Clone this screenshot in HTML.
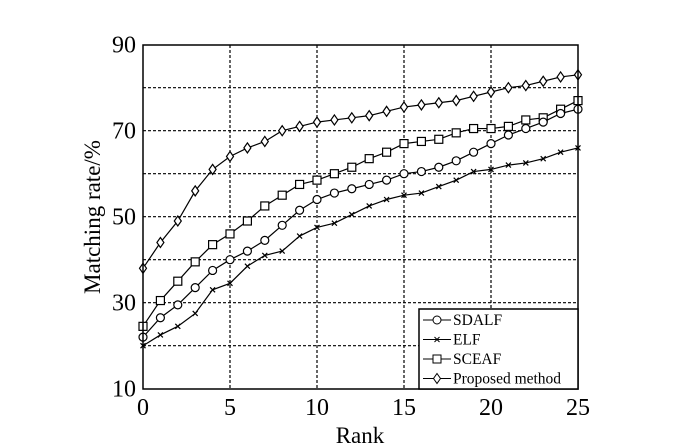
<!DOCTYPE html>
<html><head><style>html,body{margin:0;padding:0;background:#fff}svg{display:block}</style></head><body>
<svg width="700" height="447" xmlns="http://www.w3.org/2000/svg" font-family="Liberation Serif, serif">
<g id="grid" stroke="#000" stroke-width="1.2" stroke-dasharray="3,2"></g>
<g id="series" fill="none" stroke="#000" stroke-width="1.2"></g>
<rect x="143" y="45" width="435" height="344" fill="none" stroke="#000" stroke-width="1.5"/>
<g id="ticks" font-size="24" fill="#000"></g>
<text x="360" y="443" font-size="23" text-anchor="middle">Rank</text>
<text transform="translate(100,217) rotate(-90)" font-size="23" text-anchor="middle">Matching rate/%</text>
<rect x="419" y="309" width="159" height="80" fill="#fff" stroke="#000" stroke-width="1.5"/>
<g id="legend" font-size="15.5"></g>
<script>
var X=function(v){return 143+v*17.4},Y=function(v){return 388.7-(v-10)*4.3};
var ns="http://www.w3.org/2000/svg";
function el(p,t,a){var e=document.createElementNS(ns,t);for(var k in a)e.setAttribute(k,a[k]);p.appendChild(e);return e;}
var g=document.getElementById('grid');
[5,10,15,20].forEach(function(v){el(g,'line',{x1:X(v),x2:X(v),y1:45,y2:389});});
[20,30,40,50,60,70,80].forEach(function(v){el(g,'line',{x1:143,x2:578,y1:Y(v),y2:Y(v)});});
var t=document.getElementById('ticks');
[0,5,10,15,20,25].forEach(function(v){var e=el(t,'text',{x:X(v),y:415,'text-anchor':'middle'});e.textContent=v;});
[10,30,50,70,90].forEach(function(v){var e=el(t,'text',{x:136,y:Y(v)+8,'text-anchor':'end'});e.textContent=v;});
var D={
p:[38,44,49,56,61,64,66,67.5,70,71,72,72.5,73,73.5,74.5,75.5,76,76.5,77,78,79,80,80.5,81.5,82.5,83],
q:[24.5,30.5,35,39.5,43.5,46,49,52.5,55,57.5,58.5,60,61.5,63.5,65,67,67.5,68,69.5,70.5,70.5,71,72.5,73,75,77],
o:[22,26.5,29.5,33.5,37.5,40,42,44.5,48,51.5,54,55.5,56.5,57.5,58.5,60,60.5,61.5,63,65,67,69,70.5,72,74,75],
x:[20,22.5,24.5,27.5,33,34.5,38.5,41,42,45.5,47.5,48.5,50.5,52.5,54,55,55.5,57,58.5,60.5,61,62,62.5,63.5,65,66]};
var s=document.getElementById('series');
function mark(p,k,x,y){
 if(k=='o')el(p,'circle',{cx:x,cy:y,r:4,fill:'#fff'});
 else if(k=='q')el(p,'rect',{x:x-4,y:y-4,width:8,height:8,fill:'#fff'});
 else if(k=='p')el(p,'polygon',{points:(x)+','+(y-5)+' '+(x+3.5)+','+y+' '+x+','+(y+5)+' '+(x-3.5)+','+y,fill:'#fff'});
 else {el(p,'path',{d:'M'+(x-2.5)+' '+(y-2.5)+'L'+(x+2.5)+' '+(y+2.5)+'M'+(x-2.5)+' '+(y+2.5)+'L'+(x+2.5)+' '+(y-2.5)});}
}
for(var k in D){var pts=D[k].map(function(v,i){return X(i)+','+Y(v);}).join(' ');
 el(s,'polyline',{points:pts});D[k].forEach(function(v,i){mark(s,k,X(i),Y(v));});}
var L=document.getElementById('legend');
var items=[['o','SDALF'],['x','ELF'],['q','SCEAF'],['p','Proposed method']];
items.forEach(function(it,i){var y=320+i*19.5;var gg=el(L,'g',{fill:'none',stroke:'#000'});
 el(gg,'line',{x1:423,x2:451,y1:y,y2:y});mark(gg,it[0],437,y);
 var e=el(L,'text',{x:453,y:y+5});e.textContent=it[1];});
</script>
</svg>
</body></html>
